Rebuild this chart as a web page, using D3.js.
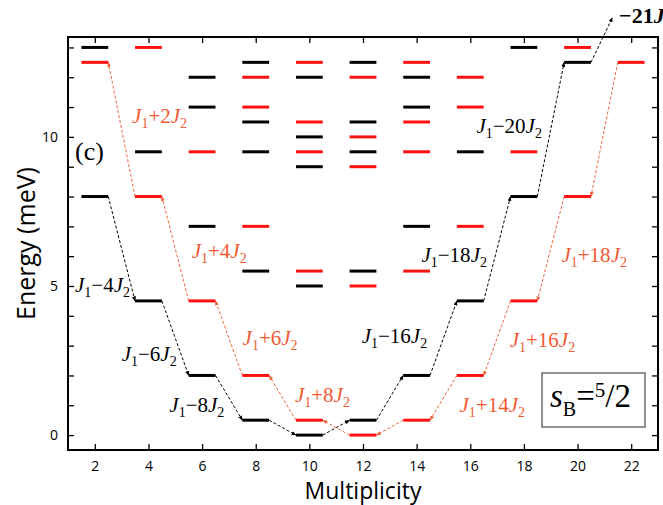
<!DOCTYPE html>
<html>
<head>
<meta charset="utf-8">
<style>
  body { margin: 0; background: #fff; }
  svg { display: block; }
  .tick text { font-family: "Open Sans", sans-serif; font-size: 14px; }
  .lbl { font-family: "Liberation Serif", serif; font-size: 21px; }
</style>
<title>Energy levels</title>
</head>
<body>
<script src="https://cdn.jsdelivr.net/npm/d3@7"></script>
<script>
// multiplicity of each column and the levels found in it (meV)
var multiplicities = [2, 4, 6, 8, 10, 12, 14, 16, 18, 20, 22];
var blackLevels = [
  [13, 8], [9.5, 4.5], [12, 11, 7, 2], [12.5, 10.5, 9.5, 5.5, 0.5],
  [12, 10, 9, 5, 0], [12.5, 10.5, 9.5, 5.5, 0.5], [12, 11, 7, 2],
  [9.5, 4.5], [13, 8], [12.5], []
];
var redLevels = [
  [12.5], [13, 8], [9.5, 4.5], [12, 11, 7, 2], [12.5, 10.5, 9.5, 5.5, 0.5],
  [12, 10, 9, 5, 0], [12.5, 10.5, 9.5, 5.5, 0.5], [12, 11, 7, 2],
  [9.5, 4.5], [13, 8], [12.5]
];
// the lowest chains joined by dashed arrows
var blackChain = [8, 4.5, 2, 0.5, 0, 0.5, 2, 4.5, 8, 12.5];
var redChain = [12.5, 8, 4.5, 2, 0.5, 0, 0.5, 2, 4.5, 8, 12.5];
var blackEnd = [21.3, 14.0];

// labels: [multiplicity, energy, sign, n, colour]
var chainLabels = [
  [3.39, 10.46, "+", 2, "red"],
  [1.26, 4.81, "\u2212", 4, "black"],
  [3.0, 2.48, "\u2212", 6, "black"],
  [4.78, 0.77, "\u2212", 8, "black"],
  [5.61, 5.94, "+", 4, "red"],
  [7.51, 3.02, "+", 6, "red"],
  [9.46, 1.12, "+", 8, "red"],
  [11.95, 3.09, "\u2212", 16, "black"],
  [14.18, 5.81, "\u2212", 18, "black"],
  [16.23, 10.12, "\u2212", 20, "black"],
  [15.6, 0.77, "+", 14, "red"],
  [17.47, 2.96, "+", 16, "red"],
  [19.4, 5.81, "+", 18, "red"]
];
var xTicks = [2, 4, 6, 8, 10, 12, 14, 16, 18, 20, 22];
var yTicks = d3.range(0, 14);
var yLabels = [0, 5, 10];

var W = 663, H = 505;
var margin = {top: 37, right: 5, bottom: 55, left: 68};
var width = W - margin.left - margin.right;
var height = H - margin.top - margin.bottom;

var x = d3.scaleLinear().domain([1, 23]).range([0, width]);
var y = d3.scaleLinear().domain([-0.5, 13.35]).range([height, 0]);

var LEVEL_RED = "#ff1010", TEXT_RED = "#ef5a32", DASH_RED = "#f0623a";

var svg = d3.select("body").append("svg")
  .attr("width", W).attr("height", H);

var defs = svg.append("defs");
function marker(id, col) {
  defs.append("marker")
    .attr("id", id)
    .attr("viewBox", "0 -5 10 10")
    .attr("refX", 9).attr("refY", 0)
    .attr("markerWidth", 5).attr("markerHeight", 5)
    .attr("markerUnits", "userSpaceOnUse")
    .attr("orient", "auto")
    .append("path").attr("d", "M0,-4L10,0L0,4Z").attr("fill", col);
}
marker("ahBlack", "#000");
marker("ahRed", DASH_RED);

var g = svg.append("g").attr("transform", "translate(" + margin.left + "," + margin.top + ")");

// axes, ticks pointing inward
g.append("g").attr("transform", "translate(0," + height + ")")
  .call(d3.axisBottom(x).tickValues(xTicks).tickSizeInner(-6).tickSizeOuter(0).tickPadding(11))
  .call(function(s) { s.select(".domain").remove(); });
g.append("g")
  .call(d3.axisTop(x).tickValues(xTicks).tickSizeInner(-6).tickSizeOuter(0).tickFormat(""))
  .call(function(s) { s.select(".domain").remove(); });
g.append("g")
  .call(d3.axisLeft(y).tickValues(yTicks).tickSizeInner(-6).tickSizeOuter(0).tickPadding(10)
    .tickFormat(function(d) { return yLabels.indexOf(d) >= 0 ? d : ""; }))
  .call(function(s) { s.select(".domain").remove(); });
g.append("g").attr("transform", "translate(" + width + ",0)")
  .call(d3.axisRight(y).tickValues(yTicks).tickSizeInner(-6).tickSizeOuter(0).tickFormat(""))
  .call(function(s) { s.select(".domain").remove(); });
g.selectAll(".tick line").attr("stroke-width", 1.3);

g.append("rect").attr("width", width).attr("height", height)
  .attr("fill", "none").attr("stroke", "#000").attr("stroke-width", 2);

// dashed arrows: black ones point to higher multiplicity, red ones to lower
function arrows(chain, col, mk, forward) {
  for (var i = 0; i < chain.length - 1; i++) {
    var m = multiplicities[i];
    var a = [x(m + 0.5), y(chain[i])], b = [x(m + 1.5), y(chain[i + 1])];
    if (!forward) { var t = a; a = b; b = t; }
    g.append("line")
      .attr("x1", a[0]).attr("y1", a[1]).attr("x2", b[0]).attr("y2", b[1])
      .attr("stroke", col).attr("stroke-width", 1).attr("stroke-dasharray", "3,2")
      .attr("marker-end", "url(#" + mk + ")");
  }
}
arrows(blackChain, "#000", "ahBlack", true);
arrows(redChain, DASH_RED, "ahRed", false);
g.append("line")
  .attr("x1", x(multiplicities[blackChain.length - 1] + 0.5)).attr("y1", y(blackChain[blackChain.length - 1]))
  .attr("x2", x(blackEnd[0])).attr("y2", y(blackEnd[1]))
  .attr("stroke", "#000").attr("stroke-width", 1).attr("stroke-dasharray", "3,2")
  .attr("marker-end", "url(#ahBlack)");

// energy levels
function levels(list, col) {
  var rows = [];
  list.forEach(function(es, i) { es.forEach(function(e) { rows.push([multiplicities[i], e]); }); });
  g.selectAll(null).data(rows).enter().append("line")
    .attr("x1", function(d) { return x(d[0] - 0.5); })
    .attr("x2", function(d) { return x(d[0] + 0.5); })
    .attr("y1", function(d) { return y(d[1]); })
    .attr("y2", function(d) { return y(d[1]); })
    .attr("stroke", col).attr("stroke-width", 3);
}
levels(blackLevels, "#000");
levels(redLevels, LEVEL_RED);

// chain labels  J1 ± n J2
chainLabels.forEach(function(d) {
  var t = g.append("text").attr("class", "lbl")
    .attr("x", x(d[0])).attr("y", y(d[1]))
    .attr("fill", d[4] === "red" ? TEXT_RED : "#000");
  t.append("tspan").attr("font-style", "italic").text("J");
  t.append("tspan").attr("font-size", "14px").attr("dy", 5).text("1");
  t.append("tspan").attr("dy", -5).text(d[2] + d[3]);
  t.append("tspan").attr("font-style", "italic").text("J");
  t.append("tspan").attr("font-size", "14px").attr("dy", 5).text("2");
});

var topLabel = g.append("text").attr("class", "lbl").attr("font-weight", "bold")
  .style("font-size", "22px")
  .attr("x", x(21.55)).attr("y", y(13.82));
topLabel.append("tspan").text("\u221221");
topLabel.append("tspan").attr("font-style", "italic").text("J");
topLabel.append("tspan").attr("font-size", "14px").attr("dy", 5).text("1");

g.append("text").attr("class", "lbl").style("font-size", "26px")
  .attr("x", x(1.26)).attr("y", y(9.22)).text("(c)");

// s_B = 5/2 box
var bx = 542 - margin.left, by = 373 - margin.top;
g.append("rect").attr("x", bx).attr("y", by).attr("width", 103).attr("height", 54)
  .attr("fill", "#fff").attr("stroke", "#555").attr("stroke-width", 1.3);
var st = g.append("text").attr("class", "lbl").style("font-size", "33px")
  .attr("x", bx + 8).attr("y", by + 34);
st.append("tspan").attr("font-style", "italic").text("s");
st.append("tspan").attr("font-size", "20px").attr("dy", 9).text("B");
st.append("tspan").attr("dy", -9).text("=");
st.append("tspan").attr("font-size", "21px").attr("dy", -10).text("5");
st.append("tspan").attr("dy", 10).text("/2");

// axis titles
svg.append("text").attr("x", margin.left + width / 2).attr("y", 499)
  .attr("text-anchor", "middle").attr("font-family", "Open Sans, sans-serif")
  .attr("font-size", "23px").text("Multiplicity");
svg.append("text")
  .attr("transform", "translate(35," + (margin.top + height / 2) + ") rotate(-90)")
  .attr("text-anchor", "middle").attr("font-family", "Open Sans, sans-serif")
  .attr("font-size", "25px").text("Energy (meV)");
</script>
</body>
</html>
